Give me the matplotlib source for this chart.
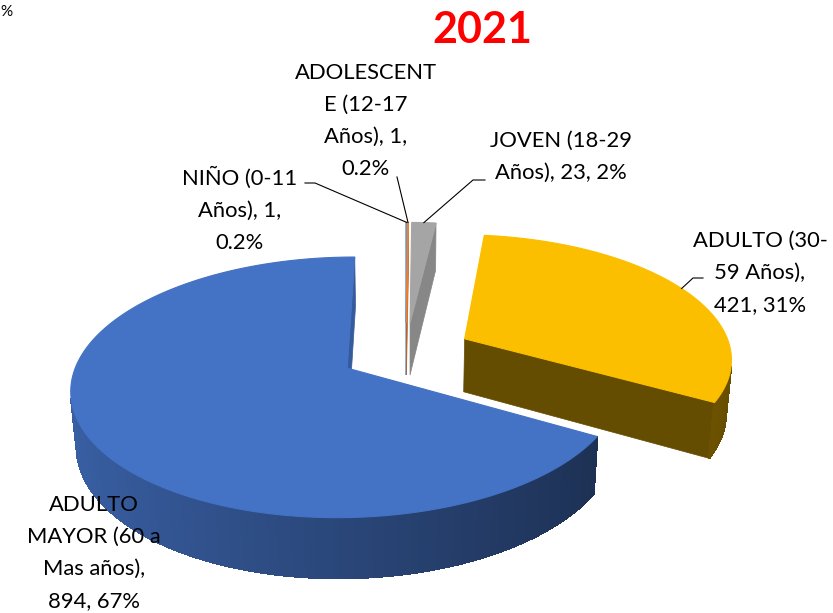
import numpy as np
import matplotlib
matplotlib.use("Agg")
import matplotlib.pyplot as plt
from matplotlib.patches import Polygon
from matplotlib.colors import to_rgb

# ---------------- data ----------------
categories = ["NIÑO (0-11 Años)", "ADOLESCENTE (12-17 Años)", "JOVEN (18-29 Años)",
              "ADULTO (30-59 Años)", "ADULTO MAYOR (60 a Mas años)"]
values = [1, 1, 23, 421, 894]
label_lines = [
    ["NIÑO (0-11", "Años), 1,", "0.2%"],
    ["ADOLESCENT", "E (12-17", "Años), 1,", "0.2%"],
    ["JOVEN (18-29", "Años), 23, 2%"],
    ["ADULTO (30-", "59 Años),", "421, 31%"],
    ["ADULTO", "MAYOR (60 a", "Mas años),", "894, 67%"],
]
title = "2021"

# ---------------- style / layout ----------------
colors = ["#5B9BD5", "#ED7D31", "#A5A5A5", "#FBBF00", "#4472C4"]
wall_shade = [0.8, 0.8, 0.82, 0.4, 0.8]
label_pos = [(240, 185), (366, 79), (561, 147), (760, 247), (94, 511)]
leader_elbows = [[(315, 183), (305, 183)], [(397, 177)], [(473, 180), (485, 180)],
                 [(693, 278), (703, 278)], None]
LINE_STEP = 32
FONT = "Lato"
FS = 15.8

OX, OY = 406.0, 352.4
SCALE = 267.0
ELEV = np.radians(27.4)
DCAM = 6.12
EXPLODE = 0.25
HEIGHT = 0.23
sA, cA = np.sin(ELEV), np.cos(ELEV)
cam = np.array([0.0, -DCAM * cA, DCAM * sA])


def proj(X, Y, Z):
    u = Y * sA + Z * cA
    w = Y * cA - Z * sA
    f = DCAM / (DCAM + w)
    return OX + SCALE * X * f, OY - SCALE * u * f


def visible(n, p):
    return np.dot(n, cam - np.asarray(p)) > 0


def shade(col, k):
    r, g, b = to_rgb(col)
    return (r * k, g * k, b * k)


fig = plt.figure(figsize=(8.33, 6.13), dpi=100)
ax = fig.add_axes([0, 0, 1, 1])
ax.set_xlim(0, 833)
ax.set_ylim(613, 0)
ax.axis("off")

vals = np.array(values, dtype=float)
bounds = np.concatenate([[0], np.cumsum(vals / vals.sum())]) * 2 * np.pi
mids = (bounds[:-1] + bounds[1:]) / 2
offs = [(EXPLODE * np.sin(m), EXPLODE * np.cos(m)) for m in mids]


def add_poly(pts3d, col, lw=0.5, aa=True):
    xy = [proj(*p) for p in pts3d]
    ax.add_patch(Polygon(xy, closed=True, facecolor=col, edgecolor=col, lw=lw,
                         antialiased=aa))


order = sorted(range(len(values)), key=lambda i: -np.cos(mids[i]))
for i in order:
    t0, t1 = bounds[i], bounds[i + 1]
    ox, oy = offs[i]
    nseg = max(2, int(2 * np.degrees(t1 - t0)) + 2)
    th = np.linspace(t0, t1, nseg)
    apex_t = (ox, oy, 0.0)
    apex_b = (ox, oy, -HEIGHT)
    # radial walls
    for t, n in ((t0, (-np.cos(t0), np.sin(t0), 0.0)), (t1, (np.cos(t1), -np.sin(t1), 0.0))):
        ot = (ox + np.sin(t), oy + np.cos(t), 0.0)
        ob = (ox + np.sin(t), oy + np.cos(t), -HEIGHT)
        pm = (ox + 0.5 * np.sin(t), oy + 0.5 * np.cos(t), -HEIGHT / 2)
        if visible(np.array(n), pm):
            add_poly([apex_t, ot, ob, apex_b], shade(colors[i], wall_shade[i]))
    # outer wall (shaded strips)
    strips = []
    for a, b in zip(th[:-1], th[1:]):
        tm = (a + b) / 2
        n = np.array([np.sin(tm), np.cos(tm), 0.0])
        pm = (ox + np.sin(tm), oy + np.cos(tm), -HEIGHT / 2)
        if visible(n, pm):
            strips.append((a, b, tm))
    if strips:
        # one antialiased silhouette underneath to avoid seams
        a0, b0 = strips[0][0], strips[-1][1]
        tt = np.linspace(a0, b0, 200)
        outline = [(ox + np.sin(t), oy + np.cos(t), 0) for t in tt] + \
                  [(ox + np.sin(t), oy + np.cos(t), -HEIGHT) for t in tt[::-1]]
        k_mid = 0.62 - 0.22 * np.sin((a0 + b0) / 2)
        add_poly(outline, shade(colors[i], k_mid), lw=0.6)
        for a, b, tm in strips:
            k = 0.62 - 0.22 * np.sin(tm)
            add_poly([(ox + np.sin(a), oy + np.cos(a), 0), (ox + np.sin(b), oy + np.cos(b), 0),
                      (ox + np.sin(b), oy + np.cos(b), -HEIGHT), (ox + np.sin(a), oy + np.cos(a), -HEIGHT)],
                     shade(colors[i], k), lw=1.0, aa=False)
    # top face
    top = [apex_t] + [(ox + np.sin(t), oy + np.cos(t), 0.0) for t in th]
    add_poly(top, colors[i], lw=0.8)

# labels and leader lines
for i, lines in enumerate(label_lines):
    cx, by = label_pos[i]
    for j, ln in enumerate(lines):
        ax.text(cx, by + j * LINE_STEP, ln, ha="center", va="baseline",
                fontsize=FS, family=FONT, color="black")
    if leader_elbows[i] is not None:
        ox, oy = offs[i]
        anchor = proj(ox + np.sin(mids[i]), oy + np.cos(mids[i]), 0.0)
        pts = [anchor] + leader_elbows[i]
        ax.plot([p[0] for p in pts], [p[1] for p in pts], color="black", lw=0.8)

ax.text(482, 43, title, ha="center", va="baseline", fontsize=31, fontweight="bold",
        family=FONT, color="#FF0000")
ax.text(0, 16, "%", ha="left", va="baseline", fontsize=11, family=FONT, color="black")

fig.savefig("out.png", dpi=100)
